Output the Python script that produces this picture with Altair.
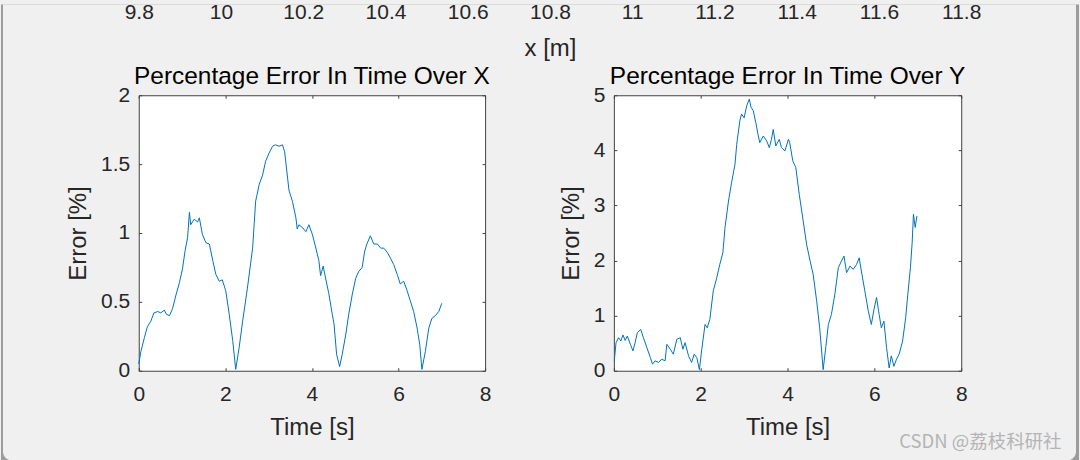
import altair as alt
import pandas as pd

# ---- percentage error over X ----
t_x = [0.00, 0.05, 0.13, 0.20, 0.28, 0.35, 0.44, 0.51, 0.59, 0.64, 0.71, 0.78, 0.86, 0.94,
       1.01, 1.07, 1.13, 1.17, 1.20, 1.28, 1.36, 1.40, 1.47, 1.55, 1.63, 1.71, 1.78, 1.86,
       1.93, 2.01, 2.09, 2.17, 2.24, 2.32, 2.40, 2.51, 2.63, 2.70, 2.78, 2.86, 2.93, 3.01,
       3.09, 3.16, 3.24, 3.32, 3.37, 3.42, 3.47, 3.55, 3.63, 3.66, 3.70, 3.78, 3.86, 3.93,
       4.01, 4.09, 4.16, 4.20, 4.26, 4.31, 4.39, 4.47, 4.51, 4.57, 4.64, 4.70, 4.78, 4.85,
       4.93, 5.01, 5.08, 5.16, 5.22, 5.27, 5.35, 5.43, 5.51, 5.59, 5.66, 5.74, 5.81, 5.89,
       5.97, 6.04, 6.12, 6.20, 6.27, 6.35, 6.43, 6.49, 6.54, 6.62, 6.70, 6.77, 6.85, 6.93,
       7.00]
err_x = [0.05, 0.14, 0.24, 0.32, 0.36, 0.42, 0.43, 0.42, 0.44, 0.41, 0.40, 0.45, 0.55, 0.64,
         0.74, 0.87, 0.97, 1.15, 1.06, 1.10, 1.08, 1.11, 0.99, 0.93, 0.92, 0.80, 0.70, 0.65,
         0.66, 0.58, 0.41, 0.22, 0.01, 0.17, 0.36, 0.60, 0.89, 1.23, 1.35, 1.42, 1.52, 1.58,
         1.63, 1.64, 1.63, 1.64, 1.59, 1.45, 1.31, 1.23, 1.11, 1.03, 1.06, 1.04, 1.01, 1.06,
         0.99, 0.89, 0.80, 0.69, 0.76, 0.68, 0.56, 0.41, 0.34, 0.12, 0.03, 0.12, 0.26, 0.41,
         0.55, 0.67, 0.72, 0.75, 0.87, 0.92, 0.98, 0.92, 0.92, 0.89, 0.89, 0.86, 0.82, 0.77,
         0.70, 0.63, 0.65, 0.58, 0.51, 0.43, 0.31, 0.19, 0.01, 0.14, 0.31, 0.38, 0.40, 0.43,
         0.49]

# ---- percentage error over Y ----
t_y = [0.01, 0.05, 0.11, 0.16, 0.21, 0.26, 0.31, 0.38, 0.44, 0.49, 0.54, 0.62, 0.68, 0.76,
       0.84, 0.89, 0.95, 1.03, 1.10, 1.18, 1.22, 1.30, 1.37, 1.45, 1.53, 1.59, 1.64, 1.72,
       1.79, 1.85, 1.91, 1.97, 2.02, 2.10, 2.15, 2.21, 2.29, 2.37, 2.44, 2.51, 2.56, 2.64,
       2.71, 2.79, 2.83, 2.90, 2.94, 3.00, 3.06, 3.12, 3.16, 3.21, 3.27, 3.32, 3.36, 3.44,
       3.52, 3.58, 3.63, 3.67, 3.73, 3.81, 3.86, 3.94, 4.02, 4.05, 4.12, 4.19, 4.27, 4.36,
       4.44, 4.52, 4.59, 4.67, 4.74, 4.82, 4.88, 4.94, 5.01, 5.09, 5.17, 5.24, 5.30, 5.36,
       5.44, 5.51, 5.59, 5.65, 5.70, 5.78, 5.86, 5.93, 5.99, 6.05, 6.11, 6.16, 6.22, 6.28,
       6.34, 6.39, 6.45, 6.51, 6.57, 6.65, 6.72, 6.77, 6.83, 6.87, 6.90, 6.94, 6.98]
err_y = [0.18, 0.51, 0.60, 0.54, 0.65, 0.55, 0.63, 0.48, 0.36, 0.51, 0.69, 0.75, 0.60, 0.42,
         0.24, 0.12, 0.18, 0.15, 0.21, 0.18, 0.48, 0.39, 0.30, 0.57, 0.60, 0.39, 0.51, 0.27,
         0.15, 0.30, 0.24, 0.02, 0.36, 0.84, 0.78, 0.93, 1.45, 1.69, 1.93, 2.14, 2.60, 3.08,
         3.41, 3.75, 4.11, 4.53, 4.66, 4.59, 4.81, 4.93, 4.78, 4.72, 4.50, 4.29, 4.14, 4.26,
         4.17, 4.05, 4.20, 4.38, 4.08, 4.20, 4.05, 3.99, 4.20, 4.14, 3.81, 3.69, 3.20, 2.72,
         2.29, 1.99, 1.75, 1.27, 0.78, 0.02, 0.42, 0.84, 1.02, 1.39, 1.87, 1.99, 2.08, 1.78,
         1.90, 1.84, 1.93, 2.05, 1.81, 1.45, 1.08, 0.84, 1.11, 1.33, 1.02, 0.78, 0.90, 0.42,
         0.05, 0.27, 0.08, 0.21, 0.30, 0.54, 0.96, 1.39, 1.87, 2.32, 2.84, 2.60, 2.81]

# tick values
top_ticks = [9.8, 10.0, 10.2, 10.4, 10.6, 10.8, 11.0, 11.2, 11.4, 11.6, 11.8]
time_ticks = [0, 2, 4, 6, 8]
x_err_ticks = [0, 0.5, 1, 1.5, 2]
y_err_ticks = [0, 1, 2, 3, 4, 5]

watermark = ["CSDN @荔枝科研社"]

FONT = "Liberation Sans"
INK = "#262626"
BOX = "#404040"
LINE = "#0072BD"
FIG_BG = "#f0f0f0"
FRAME = "#9c9c9c"

PANEL_W_L, PANEL_W_R, PANEL_H = 347, 348, 276
GAP = 129


def main_axis(orient, values, title, pad, title_pad):
    return alt.Axis(
        orient=orient, values=values, format=".1~f", grid=False, domain=False,
        ticks=True, tickSize=3, tickWidth=1, tickColor=BOX, offset=-3,
        labelFont=FONT, labelFontSize=21, labelColor=INK, labelPadding=pad,
        labelFlush=False, labelOverlap=False, minExtent=0,
        title=title, titleFont=FONT, titleFontSize=24, titleColor=INK,
        titleFontWeight="normal", titlePadding=title_pad,
    )


def mirror_axis(orient, values):
    return alt.Axis(
        orient=orient, values=values, grid=False, domain=False, labels=False,
        ticks=True, tickSize=3, tickWidth=1, tickColor=BOX, offset=-3, title=None,
        minExtent=0, maxExtent=0,
    )


def panel(t, err, y_max, y_ticks, title, width, extra=None):
    df = pd.DataFrame({"t": t, "err": err})
    xs = alt.Scale(domain=[0, 8], nice=False)
    ys = alt.Scale(domain=[0, y_max], nice=False)
    line = alt.Chart(df).mark_line(color=LINE, strokeWidth=1).encode(
        x=alt.X("t:Q", scale=xs, axis=main_axis("bottom", time_ticks, "Time [s]", 13, 11)),
        y=alt.Y("err:Q", scale=ys, axis=main_axis("left", y_ticks, "Error [%]", 9, 10)),
    )
    mirror = alt.Chart(df).mark_line(opacity=0).encode(
        x=alt.X("t:Q", scale=xs, axis=mirror_axis("top", time_ticks)),
        y=alt.Y("err:Q", scale=ys, axis=mirror_axis("right", y_ticks)),
    )
    layers = [line, mirror] + ([extra] if extra is not None else [])
    return alt.layer(*layers).resolve_axis(x="independent", y="independent").properties(
        width=width, height=PANEL_H,
        title=alt.TitleParams(title, font=FONT, fontSize=24.5, fontWeight="normal",
                              color="black", anchor="middle", frame="group",
                              baseline="alphabetic", offset=9, dy=33),
        view=alt.ViewBackground(fill="white", stroke=BOX, strokeWidth=1),
    )


wm = alt.Chart(pd.DataFrame({"label": watermark})).mark_text(
    font="Noto Sans CJK SC", fontSize=18.5, color="#b4b4b4", align="left", baseline="middle"
).encode(text="label:N", x=alt.value(286), y=alt.value(347))

left = panel(t_x, err_x, 2, x_err_ticks, "Percentage Error In Time Over X", PANEL_W_L)
right = panel(t_y, err_y, 5, y_err_ticks, "Percentage Error In Time Over Y", PANEL_W_R, wm)

# window frame behind everything, plus the axis of the plot above
# (only its tick labels and title remain in view)
frame_outer = alt.Chart(alt.Data(values=[{}])).mark_rect(color=FRAME).encode(
    x=alt.value(-138), x2=alt.value(942), y=alt.value(0), y2=alt.value(460))
frame_inner = alt.Chart(alt.Data(values=[{}])).mark_rect(
    color=FIG_BG, cornerRadiusBottomLeft=9, cornerRadiusBottomRight=9
).encode(x=alt.value(-136), x2=alt.value(939), y=alt.value(0), y2=alt.value(457))
top_axis = alt.Chart(pd.DataFrame({"x": top_ticks})).mark_point(opacity=0).encode(
    x=alt.X("x:Q", scale=alt.Scale(domain=[9.8, 11.8], nice=False),
            axis=alt.Axis(values=top_ticks, format=".1~f", grid=False, domain=False,
                          ticks=False, tickSize=0, labelFont=FONT, labelFontSize=21,
                          labelColor=INK, labelPadding=-4, labelFlush=False,
                          labelOverlap=False, title="x [m]", titleFont=FONT,
                          titleFontSize=24, titleColor=INK, titleFontWeight="normal",
                          titlePadding=14, zindex=2)),
)
top = alt.layer(frame_outer, frame_inner, top_axis).properties(
    width=PANEL_W_L + GAP + PANEL_W_R, height=1,
    view=alt.ViewBackground(fill="transparent", stroke="transparent"),
)

panels = alt.hconcat(left, right, spacing=GAP, bounds="flush")
chart = alt.vconcat(top, panels, spacing=90, bounds="flush").properties(
    padding=0, background=FIG_BG
)

chart.save("out.html", embed_options={"renderer": "svg", "actions": False})
